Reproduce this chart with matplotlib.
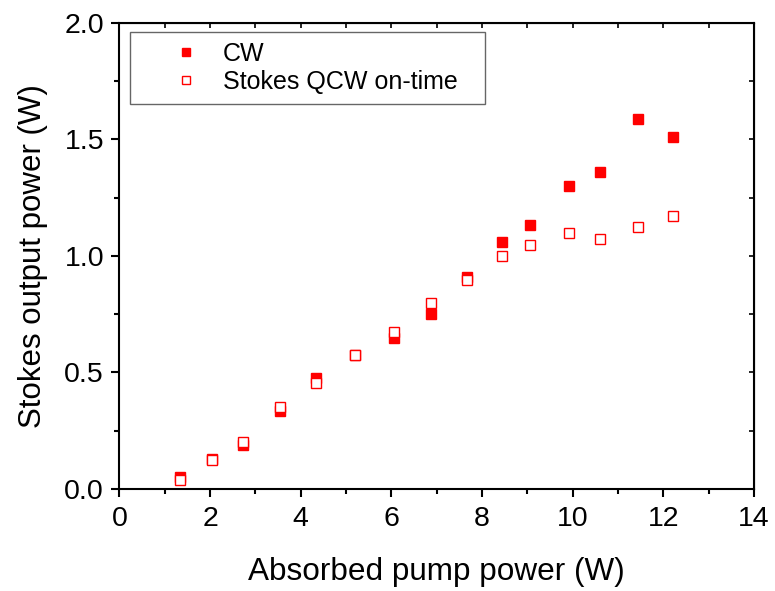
import matplotlib
matplotlib.use("Agg")
import matplotlib.pyplot as plt
from matplotlib.ticker import MultipleLocator

plt.rcParams['font.family'] = ['Liberation Sans', 'DejaVu Sans']

pump = [1.33, 2.05, 2.72, 3.55, 4.34, 5.19, 6.06, 6.88, 7.67, 8.45, 9.05, 9.92, 10.61, 11.44, 12.21]
cw = [0.05, 0.13, 0.19, 0.336, 0.475, 0.574, 0.646, 0.749, 0.911, 1.061, 1.135, 1.299, 1.362, 1.586, 1.512]
qcw = [0.039, 0.126, 0.20, 0.351, 0.455, 0.574, 0.673, 0.798, 0.899, 1.0, 1.049, 1.098, 1.074, 1.124, 1.173]

fig = plt.figure(figsize=(7.75, 5.91), dpi=100)
ax = fig.add_axes([0.154, 0.1726, 0.819, 0.7885])

ax.plot(pump, cw, linestyle='none', marker='s', ms=7, color='red', mec='red', label='CW', zorder=3)
ax.plot(pump, qcw, linestyle='none', marker='s', ms=7, mfc='white', mec='red', mew=1.0,
        label='Stokes QCW on-time', zorder=4)

ax.set_xlim(0, 14)
ax.set_ylim(0, 2.0)
ax.xaxis.set_major_locator(MultipleLocator(2))
ax.xaxis.set_minor_locator(MultipleLocator(1))
ax.yaxis.set_major_locator(MultipleLocator(0.5))
ax.yaxis.set_minor_locator(MultipleLocator(0.25))
ax.yaxis.set_major_formatter(matplotlib.ticker.FormatStrFormatter('%.1f'))

for s in ax.spines.values():
    s.set_linewidth(1.5)

ax.tick_params(which='major', direction='out', length=6, width=1.5, labelsize=20.5)
ax.tick_params(which='minor', direction='out', length=3.5, width=1.5)
ax.tick_params(axis='x', which='major', pad=6.5)
ax.tick_params(axis='y', which='major', pad=5)

# top/right small inward ticks
axt = ax.secondary_xaxis('top')
axt.xaxis.set_major_locator(MultipleLocator(1))
axt.tick_params(direction='in', length=3.5, width=1.2, labelsize=0, labeltop=False)
axr = ax.secondary_yaxis('right')
axr.yaxis.set_major_locator(MultipleLocator(0.25))
axr.tick_params(direction='in', length=3.5, width=1.2, labelsize=0, labelright=False)

ax.set_xlabel('Absorbed pump power (W)', fontsize=22.7, labelpad=18)
ax.set_ylabel('Stokes output power (W)', fontsize=22.5, labelpad=12)

leg = ax.legend(loc='upper left', bbox_to_anchor=(0.017, 0.5, 0.559, 0.481), mode='expand',
                borderaxespad=0,
                fontsize=18, fancybox=False, edgecolor='0.4', framealpha=1,
                borderpad=0.4, handlelength=3.7, handletextpad=-0.4,
                labelspacing=0.15, markerscale=0.85)
leg.get_frame().set_linewidth(1.0)

fig.savefig('out.png', dpi=100)
